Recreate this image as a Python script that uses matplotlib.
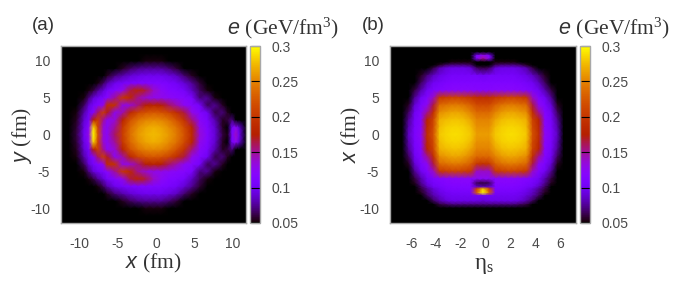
import numpy as np
import matplotlib
matplotlib.use("Agg")
import matplotlib.pyplot as plt
from matplotlib.colors import ListedColormap
from matplotlib.transforms import ScaledTranslation

plt.rcParams['font.family'] = ['Liberation Sans', 'DejaVu Sans']
plt.rcParams['mathtext.fontset'] = 'custom'
plt.rcParams['mathtext.rm'] = 'Liberation Serif'
plt.rcParams['mathtext.it'] = 'Liberation Sans:italic'
plt.rcParams['mathtext.bf'] = 'Liberation Serif:bold'
plt.rcParams['axes.unicode_minus'] = False

# Panel (a): rows y = 0..12 (mirrored in y), columns at a_x
a_x = [-12,-11,-10,-9,-8.4,-7.8,-7.2,-6.5,-6,-5,-4,-3,-2,-1,0,1,2,3,4,5,6,7,8,9,9.6,10.2,10.7,11.1,12]
a_y_upper = [0,1,2,3,4,5,6,7,8,9,10,11,12]
a_upper = [
 [.05,.05,.06,.10,.13,.30,.22,.135,.125,.16,.205,.24,.26,.27,.275,.27,.26,.245,.22,.185,.135,.115,.09,.06,.052,.11,.14,.10,.05],
 [.05,.05,.058,.095,.12,.285,.21,.135,.125,.15,.20,.235,.255,.265,.27,.265,.255,.24,.215,.18,.13,.112,.088,.055,.05,.105,.125,.09,.05],
 [.05,.05,.055,.09,.105,.175,.205,.15,.125,.135,.18,.22,.24,.25,.253,.25,.24,.22,.195,.155,.122,.108,.08,.055,.06,.07,.05,.05,.05],
 [.05,.05,.052,.08,.10,.115,.16,.205,.17,.125,.145,.185,.21,.22,.225,.22,.21,.19,.165,.13,.115,.10,.062,.07,.055,.05,.05,.05,.05],
 [.05,.05,.05,.065,.09,.105,.115,.13,.19,.195,.13,.135,.155,.175,.18,.175,.16,.145,.125,.118,.105,.065,.075,.055,.05,.05,.05,.05,.05],
 [.05,.05,.05,.052,.07,.09,.10,.11,.12,.15,.20,.185,.15,.135,.13,.13,.125,.12,.118,.108,.07,.075,.052,.05,.05,.05,.05,.05,.05],
 [.05,.05,.05,.05,.052,.06,.075,.09,.105,.115,.13,.165,.18,.165,.14,.125,.115,.112,.105,.085,.065,.052,.05,.05,.05,.05,.05,.05,.05],
 [.05,.05,.05,.05,.05,.05,.052,.065,.08,.098,.105,.11,.112,.113,.113,.112,.108,.102,.09,.075,.058,.05,.05,.05,.05,.05,.05,.05,.05],
 [.05,.05,.05,.05,.05,.05,.05,.05,.055,.07,.08,.09,.095,.098,.098,.098,.092,.085,.068,.055,.05,.05,.05,.05,.05,.05,.05,.05,.05],
 [.05,.05,.05,.05,.05,.05,.05,.05,.05,.05,.055,.065,.072,.075,.075,.075,.068,.058,.05,.05,.05,.05,.05,.05,.05,.05,.05,.05,.05],
 [.05,.05,.05,.05,.05,.05,.05,.05,.05,.05,.05,.05,.05,.052,.052,.052,.05,.05,.05,.05,.05,.05,.05,.05,.05,.05,.05,.05,.05],
 [.05]*29,
 [.05]*29,
]
# Panel (b): rows at b_x, columns eta = 0..7.5 step .5 (mirrored in eta)
b_eta_pos = [0,.5,1,1.5,2,2.5,3,3.5,4,4.5,5,5.5,6,6.5,7,7.5]
b_x = [12,11.2,10.7,10.3,9.8,9.4,9,8,7,6,5,4,3,2,1,0,-1,-2,-3,-4,-5,-6,-6.6,-7.1,-7.4,-7.9,-8.3,-9,-9.5,-10,-11,-12]
b_right = [
 [.05]*16,
 [.05]*16,
 [.13,.11,.05,.05,.05,.05,.05,.05,.05,.05,.05,.05,.05,.05,.05,.05],
 [.15,.12,.05,.05,.05,.05,.05,.05,.05,.05,.05,.05,.05,.05,.05,.05],
 [.05,.05,.052,.052,.052,.052,.05,.05,.05,.05,.05,.05,.05,.05,.05,.05],
 [.05,.05,.065,.07,.07,.07,.065,.055,.05,.05,.05,.05,.05,.05,.05,.05],
 [.06,.065,.09,.095,.095,.095,.09,.08,.06,.05,.05,.05,.05,.05,.05,.05],
 [.10,.105,.105,.105,.105,.105,.10,.095,.085,.07,.055,.05,.05,.05,.05,.05],
 [.112,.112,.112,.112,.112,.112,.11,.105,.10,.085,.065,.05,.05,.05,.05,.05],
 [.118,.118,.12,.12,.12,.12,.118,.115,.11,.10,.08,.06,.05,.05,.05,.05],
 [.19,.19,.20,.205,.21,.21,.205,.20,.14,.115,.10,.075,.05,.05,.05,.05],
 [.215,.215,.23,.24,.245,.245,.24,.235,.165,.125,.11,.09,.055,.05,.05,.05],
 [.235,.235,.25,.26,.265,.265,.26,.255,.19,.15,.115,.10,.065,.05,.05,.05],
 [.25,.25,.265,.275,.278,.278,.275,.27,.21,.18,.118,.105,.075,.05,.05,.05],
 [.257,.257,.275,.283,.285,.285,.283,.275,.215,.185,.12,.108,.08,.05,.05,.05],
 [.262,.262,.28,.285,.288,.288,.285,.28,.22,.19,.125,.11,.085,.05,.05,.05],
 [.257,.257,.275,.283,.285,.285,.283,.275,.215,.185,.12,.108,.08,.05,.05,.05],
 [.25,.25,.265,.275,.278,.278,.275,.27,.21,.18,.118,.105,.075,.05,.05,.05],
 [.235,.235,.25,.26,.265,.265,.26,.255,.19,.15,.115,.10,.065,.05,.05,.05],
 [.195,.20,.23,.24,.245,.245,.24,.235,.165,.125,.11,.09,.055,.05,.05,.05],
 [.14,.14,.20,.205,.21,.21,.205,.20,.14,.115,.10,.075,.05,.05,.05,.05],
 [.125,.125,.12,.12,.12,.12,.118,.115,.11,.10,.08,.06,.05,.05,.05,.05],
 [.06,.065,.118,.118,.118,.118,.115,.11,.105,.095,.075,.055,.05,.05,.05,.05],
 [.08,.085,.112,.112,.112,.112,.11,.105,.10,.085,.065,.05,.05,.05,.05,.05],
 [.28,.21,.11,.11,.11,.11,.108,.10,.09,.075,.06,.05,.05,.05,.05,.05],
 [.30,.23,.105,.105,.105,.105,.10,.095,.085,.07,.055,.05,.05,.05,.05,.05],
 [.10,.10,.10,.10,.10,.10,.098,.09,.08,.065,.05,.05,.05,.05,.05,.05],
 [.09,.095,.095,.095,.095,.095,.09,.08,.065,.05,.05,.05,.05,.05,.05,.05],
 [.07,.07,.07,.07,.07,.07,.065,.06,.05,.05,.05,.05,.05,.05,.05,.05],
 [.05]*16,
 [.05]*16,
 [.05]*16,
]
cbar_ticks = [.05,.1,.15,.2,.25,.3]
cbar_labels = ['0.05','0.1','0.15','0.2','0.25','0.3']

# gnuplot default pm3d palette
t = np.linspace(0, 1, 256)
cmap = ListedColormap(np.c_[np.sqrt(t), t**3, np.clip(np.sin(2*np.pi*t), 0, 1)])

W, H = 681, 286
fig = plt.figure(figsize=(W/100, H/100), dpi=100)
def rect(x0, y0, x1, y1):
    return [x0/W, 1-y1/H, (x1-x0)/W, (y1-y0)/H]

a_arr = np.array(a_upper)
grid_a = np.vstack([a_arr[:0:-1], a_arr])
y_a = np.r_[-np.array(a_y_upper)[:0:-1], a_y_upper]
b_arr = np.array(b_right)
grid_b = np.hstack([b_arr[:, :0:-1], b_arr])
eta_all = np.r_[-np.array(b_eta_pos)[:0:-1], b_eta_pos]

TC = '#4a4a4a'
SP = '#a8a8a8'
def panel(r, cr, X, Y, data, lims, xt, yt):
    ax = fig.add_axes(rect(*r))
    im = ax.pcolormesh(X, Y, data, cmap=cmap, vmin=.05, vmax=.3, shading='gouraud')
    ax.set_facecolor('black')
    ax.set_xlim(lims[0], lims[1]); ax.set_ylim(lims[2], lims[3])
    ax.set_xticks(xt); ax.set_yticks(yt)
    ax.tick_params(length=0, labelsize=10, labelcolor=TC)
    ax.tick_params(axis='x', pad=10)
    ax.tick_params(axis='y', pad=8)
    shift = ScaledTranslation(1.8/72, 0, fig.dpi_scale_trans)
    for lab in ax.get_xticklabels():
        lab.set_transform(lab.get_transform() + shift)
    for s in ax.spines.values():
        s.set_color(SP); s.set_linewidth(1)
    cax = fig.add_axes(rect(*cr))
    cb = fig.colorbar(im, cax=cax, ticks=cbar_ticks)
    cb.ax.set_yticklabels(cbar_labels)
    cb.ax.tick_params(direction='in', length=9.5*.72, width=.8, color='black', labelsize=10,
                      labelcolor=TC, pad=9)
    cb.outline.set_edgecolor(SP); cb.outline.set_linewidth(1)
    return ax

panel((61,46,246,223), (250,46,259.5,223), a_x, y_a, grid_a, (-12,12,-12,12),
      [-10,-5,0,5,10], [-10,-5,0,5,10])
panel((390,46,576,223), (579.5,46,589.5,223), eta_all, b_x, grid_b,
      (-7.5,7.5,-12,12), [-6,-4,-2,0,2,4,6], [-10,-5,0,5,10])

def txt(x, y, s, **k):
    fig.text(x/W, 1-y/H, s, ha='center', va='center', color='#333333', **k)

txt(43.5, 26, '(a)', fontsize=13.5)
txt(373, 26, '(b)', fontsize=13.5)
unit = r'$\mathit{e}\ \mathrm{(GeV/fm^{3})}$'
txt(283, 28, unit, fontsize=15.5)
txt(614, 28, unit, fontsize=15.5)
txt(153, 263, r'$\mathit{x}\ \mathrm{(fm)}$', fontsize=15.5)
txt(22, 135, r'$\mathit{y}\ \mathrm{(fm)}$', fontsize=15.5, rotation=90)
txt(351, 135, r'$\mathit{x}\ \mathrm{(fm)}$', fontsize=15.5, rotation=90)
txt(484, 264, r'$\mathrm{\eta_{s}}$', fontsize=16.5)

fig.savefig('out.png', dpi=100)
